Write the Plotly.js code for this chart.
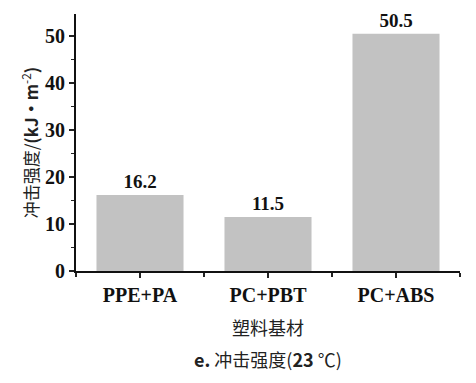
<!DOCTYPE html>
<html><head><meta charset="utf-8">
<script src="https://cdn.plot.ly/plotly-3.0.1.min.js"></script>
<style>body{margin:0;background:#fff}#c{width:476px;height:383px}</style>
</head><body><div id="c"></div>
<script>
const categories = ["PPE+PA", "PC+PBT", "PC+ABS"];
const positions = [1, 2, 3];
const impactStrength = [16.2, 11.5, 50.5];

const serif = "'Liberation Serif', 'Times New Roman', serif";
const cjk = "'Noto Sans CJK SC', sans-serif";

const trace = {
  type: "bar",
  x: positions,
  y: impactStrength,
  width: 0.68,
  marker: {color: "#c2c2c2", line: {width: 0}},
  text: impactStrength.map(v => v.toFixed(1)),
  textposition: "outside",
  cliponaxis: false,
  textfont: {family: serif, size: 19, color: "#111", weight: "bold"},
  hoverinfo: "none"
};

const layout = {
  width: 476, height: 383,
  margin: {l: 76, r: 16, t: 14, b: 112},
  paper_bgcolor: "#fff", plot_bgcolor: "#fff",
  showlegend: false,
  xaxis: {
    range: [0.5, 3.5],
    tickmode: "array", tickvals: positions, ticktext: categories,
    ticks: "outside", ticklen: 5, tickwidth: 1.5, tickcolor: "#222",
    minor: {tickmode: "linear", tick0: 0.5, dtick: 1, ticks: "outside", ticklen: 4, tickwidth: 1.5, tickcolor: "#222"},
    showline: true, linecolor: "#111", linewidth: 2,
    showgrid: false, zeroline: false,
    tickfont: {family: serif, size: 20, color: "#111", weight: "bold"},
    title: {text: "塑料基材", font: {family: cjk, size: 18, color: "#222"}, standoff: 17}
  },
  yaxis: {
    range: [0, 54.7],
    tickmode: "linear", tick0: 0, dtick: 10,
    ticks: "outside", ticklen: 5, tickwidth: 1.5, tickcolor: "#222",
    minor: {tickmode: "linear", tick0: 0, dtick: 5, ticks: "outside", ticklen: 3, tickwidth: 1.5, tickcolor: "#222"},
    showline: true, linecolor: "#111", linewidth: 2,
    showgrid: false, zeroline: false,
    tickfont: {family: serif, size: 20, color: "#111", weight: "bold"},
    title: {text: "冲击强度/<b>(kJ·m</b><sup>-2</sup><b>)</b>", font: {family: cjk, size: 17, color: "#222"}, standoff: 2}
  },
  annotations: [{
    xref: "paper", yref: "paper", x: 0.5, y: 0, yshift: -88, yanchor: "middle",
    showarrow: false,
    text: "<b>e.</b> 冲击强度(<b>23</b> ℃)",
    font: {family: cjk, size: 18, color: "#222"}
  }]
};

Plotly.newPlot("c", [trace], layout, {displayModeBar: false, staticPlot: true});
</script></body></html>
